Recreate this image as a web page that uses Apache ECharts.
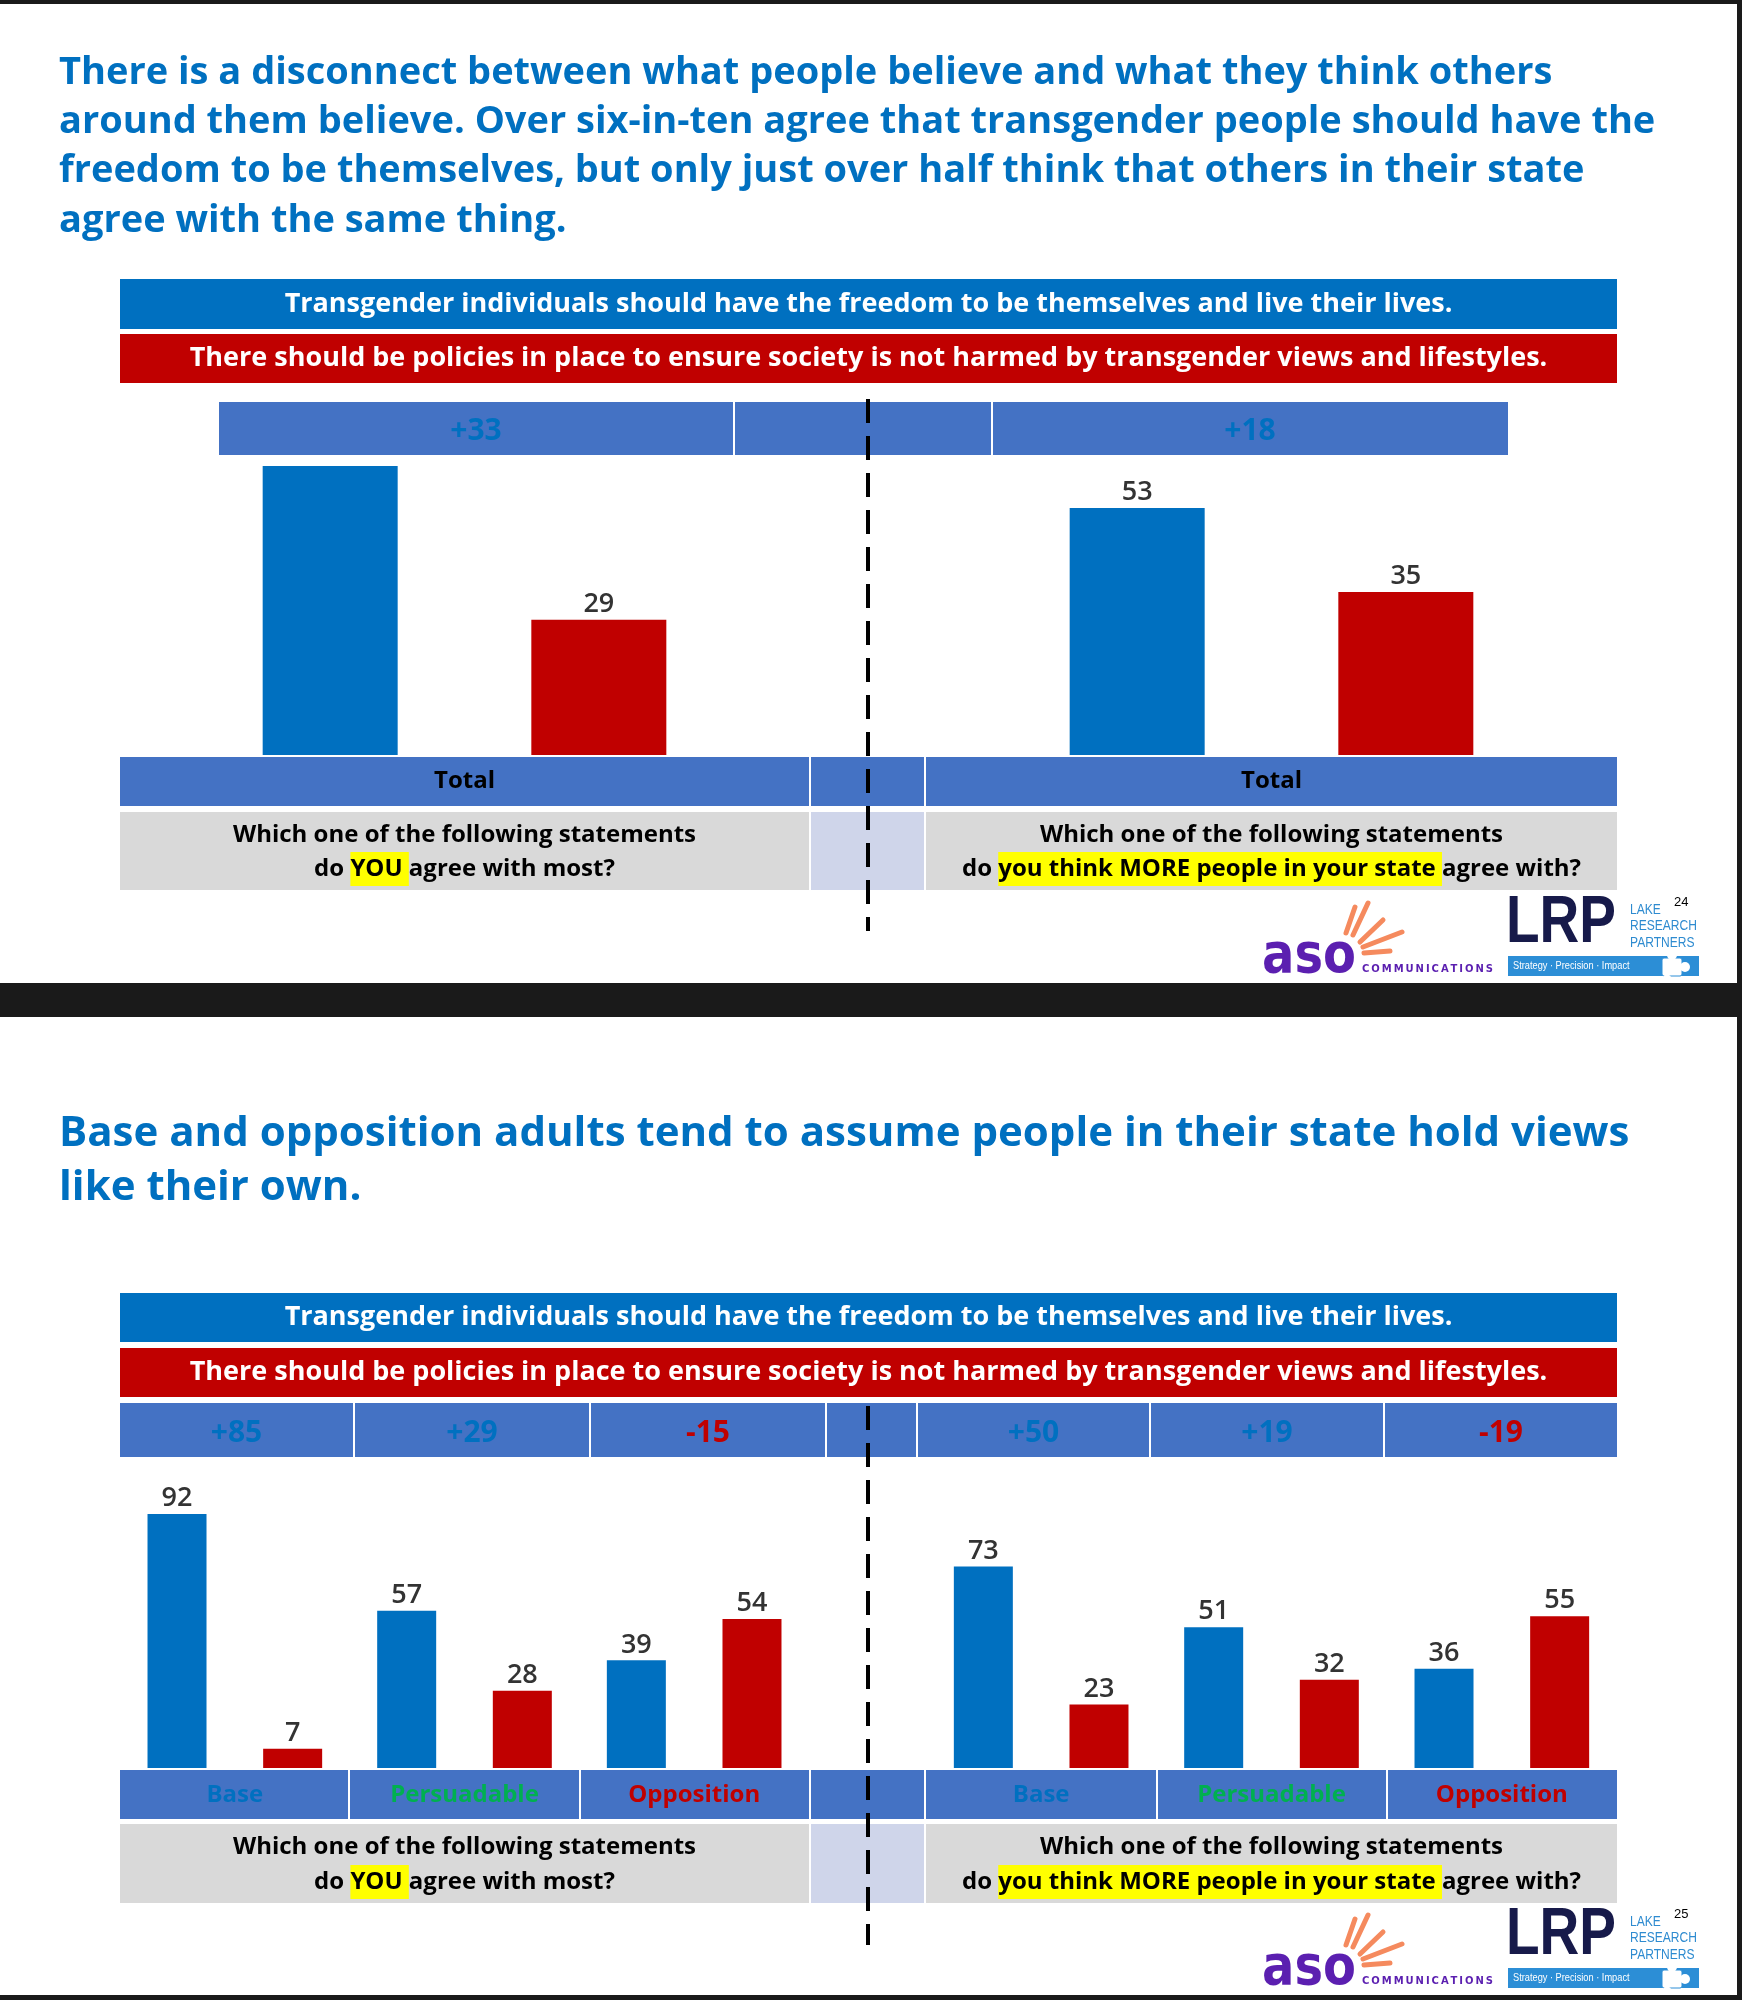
<!DOCTYPE html>
<html><head><meta charset="utf-8">
<script src="https://cdn.jsdelivr.net/npm/echarts@6/dist/echarts.min.js"></script>
<style>html,body{margin:0;padding:0;background:#fff}#c{width:1742px;height:2000px}</style>
</head><body><div id="c"></div>
<script>
// ---------------- DATA ----------------
const title1Lines = [
  "There is a disconnect between what people believe and what they think others",
  "around them believe. Over six-in-ten agree that transgender people should have the",
  "freedom to be themselves, but only just over half think that others in their state",
  "agree with the same thing."
];
const title2Lines = [
  "Base and opposition adults tend to assume people in their state hold views",
  "like their own."
];
const statementFreedom = "Transgender individuals should have the freedom to be themselves and live their lives.";
const statementPolicies = "There should be policies in place to ensure society is not harmed by transgender views and lifestyles.";

const totalCategories = ["Total"];
const youFreedomTotal = [62];
const youPoliciesTotal = [29];
const stateFreedomTotal = [53];
const statePoliciesTotal = [35];

const segmentCategories = ["Base", "Persuadable", "Opposition"];
const youFreedomSeg = [92, 57, 39];
const youPoliciesSeg = [7, 28, 54];
const stateFreedomSeg = [73, 51, 36];
const statePoliciesSeg = [23, 32, 55];

const questionLine1 = "Which one of the following statements";
const questionYou = ["do ", "YOU ", "agree with most?"];
const questionState = ["do ", "you think MORE people in your state ", "agree with?"];
const pageNumbers = ["24", "25"];

// ---------------- STYLE ----------------
const FONT = "'Open Sans', 'Noto Sans', sans-serif";
const BLUE = '#0070C0', RED = '#C00000', BAND = '#4472C4', GRAY = '#D9D9D9', LIGHT = '#CFD5EA';
const segColors = { Base: '#0070C0', Persuadable: '#00B050', Opposition: '#C00000' };

const els = [];
function rect(x, y, w, h, fill, z) {
  els.push({ type: 'rect', silent: true, z: z || 1, shape: { x: x, y: y, width: w, height: h }, style: { fill: fill } });
}
function txt(x, y, text, o) {
  o = o || {};
  const st = {
    text: text, fill: o.fill || '#000', fontSize: o.size || 20, fontFamily: o.family || FONT,
    fontWeight: o.weight || 'normal', textAlign: o.align || 'left', textVerticalAlign: o.va || 'middle',
    align: o.align || 'left', verticalAlign: o.va || 'middle'
  };
  if (o.rich) st.rich = o.rich;
  els.push({ type: 'text', silent: true, z: o.z || 5, x: x, y: y, scaleX: o.sx || 1, scaleY: o.sy || 1, style: st });
}
function line(x1, y1, x2, y2, stroke, w, dash, z) {
  els.push({ type: 'line', silent: true, z: z || 5, shape: { x1: x1, y1: y1, x2: x2, y2: y2 },
    style: { stroke: stroke, lineWidth: w, lineDash: dash || null, lineCap: dash ? 'butt' : 'round' } });
}
function diffText(a, b) { const d = a - b; return (d > 0 ? '+' : '') + d; }
function diffColor(a, b) { return a - b >= 0 ? BLUE : RED; }

const measureCtx = document.createElement('canvas').getContext('2d');
function spacedText(x0, y, str, targetWidth, font, fill) {
  measureCtx.font = font;
  const ws = str.split('').map(ch => measureCtx.measureText(ch).width);
  const total = ws.reduce((a, b) => a + b, 0);
  const gap = (targetWidth - total) / (str.length - 1);
  let x = x0;
  str.split('').forEach((ch, i) => {
    els.push({ type: 'text', silent: true, z: 5, x: x, y: y, style: { text: ch, font: font, fill: fill, textVerticalAlign: 'middle', verticalAlign: 'middle' } });
    x += ws[i] + gap;
  });
}

function logos(dy) {
  // ASO communications
  txt(1262, 958 + dy, 'aso', { size: 48, weight: 'bold', fill: '#5B1FB0', family: "'DejaVu Sans', sans-serif", sy: 1.15 });
  const rays = [[1346, 933, 1355, 907], [1353, 935, 1368, 903], [1360, 942, 1383, 920], [1363, 947, 1402, 932], [1364, 953, 1390, 951]];
  rays.forEach(r => line(r[0], r[1] + dy, r[2], r[3] + dy, '#F58A5E', 5));
  spacedText(1362, 969 + dy, 'COMMUNICATIONS', 131, "bold 10px 'DejaVu Sans'", '#5B1FB0');
  // LRP
  txt(1506, 924 + dy, 'LRP', { size: 55, weight: 'bold', fill: '#171A4A', family: "'Liberation Sans', sans-serif", sy: 1.2 });
  ['LAKE', 'RESEARCH', 'PARTNERS'].forEach((s, i) =>
    txt(1630, 910 + i * 16.5 + dy, s, { size: 14, fill: '#2E8BD0', family: "'Liberation Sans', sans-serif", sx: 0.86 }));
  rect(1508, 956 + dy, 191, 20, '#2C8ED6', 3);
  txt(1513, 966 + dy, 'Strategy \u00B7 Precision \u00B7 Impact', { size: 10.5, fill: '#fff', family: "'Liberation Sans', sans-serif", sx: 0.88 });
  // puzzle piece
  els.push({ type: 'group', silent: true, children: [
    { type: 'rect', z: 6, shape: { x: 1662, y: 958 + dy, width: 20, height: 18, r: 2 }, style: { fill: '#fff', stroke: '#2C8ED6', lineWidth: 1 } },
    { type: 'circle', z: 6, shape: { cx: 1672, cy: 955 + dy, r: 5 }, style: { fill: '#fff' } },
    { type: 'circle', z: 6, shape: { cx: 1685, cy: 967 + dy, r: 5 }, style: { fill: '#fff' } },
    { type: 'circle', z: 6, shape: { cx: 1667, cy: 979 + dy, r: 4.5 }, style: { fill: '#fff' } }
  ]});
  txt(1674, 902 + dy, pageNumbers[dy > 0 ? 1 : 0], { size: 13, fill: '#000', family: "'Liberation Sans', sans-serif" });
}

function questionTexts(cx, y1, y2, parts) {
  const rich = {
    n: { fontSize: 24, fontFamily: FONT, fontWeight: 'bold', fill: '#000' },
    h: { fontSize: 24, fontFamily: FONT, fontWeight: 'bold', fill: '#000', backgroundColor: '#FFFF00', padding: [5, 0, 5, 0] }
  };
  txt(cx, y1, questionLine1, { size: 24, weight: 'bold', align: 'center' });
  txt(cx, y2, '{n|' + parts[0] + '}{h|' + parts[1] + '}{n|' + parts[2] + '}', { size: 24, weight: 'bold', align: 'center', rich: rich });
}

// ---------------- FRAME ----------------
const DARK = '#1A1A1A';
rect(0, 0, 1742, 4, DARK, 20);
rect(0, 983, 1742, 34, DARK, 20);
rect(0, 1995, 1742, 5, DARK, 20);
rect(1737, 0, 5, 2000, DARK, 20);

// ---------------- TOP PANEL ----------------
title1Lines.forEach((s, i) => txt(59, 73 + i * 49.3, s, { size: 38, weight: 'bold', fill: BLUE }));
rect(120, 279, 1497, 50, BLUE);
txt(868.5, 304, statementFreedom, { size: 27, weight: 'bold', fill: '#fff', align: 'center' });
rect(120, 334, 1497, 49, RED);
txt(868.5, 358.5, statementPolicies, { size: 27, weight: 'bold', fill: '#fff', align: 'center' });
// margin band
rect(219, 402, 514, 53, BAND, 10);
rect(735, 402, 256, 53, BAND, 10);
rect(993, 402, 515, 53, BAND, 10);
txt(476, 431, diffText(youFreedomTotal[0], youPoliciesTotal[0]), { size: 30, weight: 'bold', fill: diffColor(youFreedomTotal[0], youPoliciesTotal[0]), align: 'center', z: 11 });
txt(1250, 431, diffText(stateFreedomTotal[0], statePoliciesTotal[0]), { size: 30, weight: 'bold', fill: diffColor(stateFreedomTotal[0], statePoliciesTotal[0]), align: 'center', z: 11 });
// category band + question row
rect(120, 757, 689, 49, BAND);
rect(811, 757, 113, 49, BAND);
rect(926, 757, 691, 49, BAND);
rect(120, 812, 689, 78, GRAY);
rect(811, 812, 113, 78, LIGHT);
rect(926, 812, 691, 78, GRAY);
questionTexts(464.5, 835, 869, questionYou);
questionTexts(1271.5, 835, 869, questionState);
line(868, 399, 868, 931, '#000', 4, [24, 13], 30);
logos(0);

// ---------------- BOTTOM PANEL ----------------
title2Lines.forEach((s, i) => txt(59, 1134 + i * 54, s, { size: 42, weight: 'bold', fill: BLUE }));
rect(120, 1293, 1497, 49, BLUE);
txt(868.5, 1317.5, statementFreedom, { size: 27, weight: 'bold', fill: '#fff', align: 'center' });
rect(120, 1348, 1497, 49, RED);
txt(868.5, 1372.5, statementPolicies, { size: 27, weight: 'bold', fill: '#fff', align: 'center' });
const diffCells = [[120, 353], [355, 589], [591, 825], [827, 916], [918, 1149], [1151, 1383], [1385, 1617]];
diffCells.forEach(c => rect(c[0], 1403, c[1] - c[0], 54, BAND, 10));
const leftDiffCells = diffCells.slice(0, 3), rightDiffCells = diffCells.slice(4);
segmentCategories.forEach((cat, i) => {
  const c = leftDiffCells[i], d = rightDiffCells[i];
  txt((c[0] + c[1]) / 2, 1433, diffText(youFreedomSeg[i], youPoliciesSeg[i]), { size: 30, weight: 'bold', fill: diffColor(youFreedomSeg[i], youPoliciesSeg[i]), align: 'center', z: 11 });
  txt((d[0] + d[1]) / 2, 1433, diffText(stateFreedomSeg[i], statePoliciesSeg[i]), { size: 30, weight: 'bold', fill: diffColor(stateFreedomSeg[i], statePoliciesSeg[i]), align: 'center', z: 11 });
});
const catCells = [[120, 348], [350, 579], [581, 809], [811, 924], [926, 1156], [1158, 1386], [1388, 1617]];
catCells.forEach(c => rect(c[0], 1770, c[1] - c[0], 49, BAND));
rect(120, 1824, 689, 79, GRAY);
rect(811, 1824, 113, 79, LIGHT);
rect(926, 1824, 691, 79, GRAY);
questionTexts(464.5, 1847, 1882, questionYou);
questionTexts(1271.5, 1847, 1882, questionState);
line(868, 1406, 868, 1945, '#000', 4, [24, 13], 30);
logos(1012);

// ---------------- CHART ----------------
const grids = [
  { left: 120, top: 289, width: 689, height: 466 },
  { left: 926, top: 289, width: 691, height: 466 },
  { left: 120, top: 1492, width: 689, height: 276 },
  { left: 926, top: 1492, width: 691, height: 276 }
];
const segRich = {};
segmentCategories.forEach(c => { segRich[c] = { color: segColors[c], fontSize: 24, fontWeight: 'bold', fontFamily: FONT }; });
function xAxis(i, cats, margin) {
  const seg = i >= 2;
  return {
    type: 'category', gridIndex: i, data: cats, z: 50,
    axisLine: { show: false }, axisTick: { show: false }, splitLine: { show: false },
    axisLabel: {
      margin: margin, verticalAlign: 'middle', interval: 0,
      color: '#000', fontSize: 24, fontWeight: 'bold', fontFamily: FONT,
      formatter: seg ? (v => '{' + v + '|' + v + '}') : (v => v),
      rich: seg ? segRich : undefined
    }
  };
}
function yAxis(i) {
  return { type: 'value', gridIndex: i, min: 0, max: 100, show: false, splitLine: { show: false } };
}
const labelStyle = { show: true, position: 'top', distance: 2, color: '#333333', fontSize: 27, fontWeight: 600, fontFamily: FONT };
function bars(i, vals, color, width, gap, hideLabels) {
  return {
    type: 'bar', xAxisIndex: i, yAxisIndex: i, barWidth: width, barGap: gap,
    itemStyle: { color: color },
    label: labelStyle,
    // in the original, the first bar's label is concealed behind the margin band
    data: vals.map(v => hideLabels ? { value: v, label: { show: false } } : v)
  };
}
const option = {
  animation: false,
  backgroundColor: '#fff',
  grid: grids,
  xAxis: [xAxis(0, totalCategories, 26), xAxis(1, totalCategories, 26), xAxis(2, segmentCategories, 27), xAxis(3, segmentCategories, 27)],
  yAxis: [yAxis(0), yAxis(1), yAxis(2), yAxis(3)],
  series: [
    bars(0, youFreedomTotal, BLUE, 135, '99%', true),
    bars(0, youPoliciesTotal, RED, 135, '99%'),
    bars(1, stateFreedomTotal, BLUE, 135, '99%'),
    bars(1, statePoliciesTotal, RED, 135, '99%'),
    bars(2, youFreedomSeg, BLUE, 59, '96%'),
    bars(2, youPoliciesSeg, RED, 59, '96%'),
    bars(3, stateFreedomSeg, BLUE, 59, '96%'),
    bars(3, statePoliciesSeg, RED, 59, '96%')
  ],
  graphic: { elements: els }
};
const chart = echarts.init(document.getElementById('c'), null, { renderer: 'canvas' });
chart.setOption(option);
</script>
</body></html>
